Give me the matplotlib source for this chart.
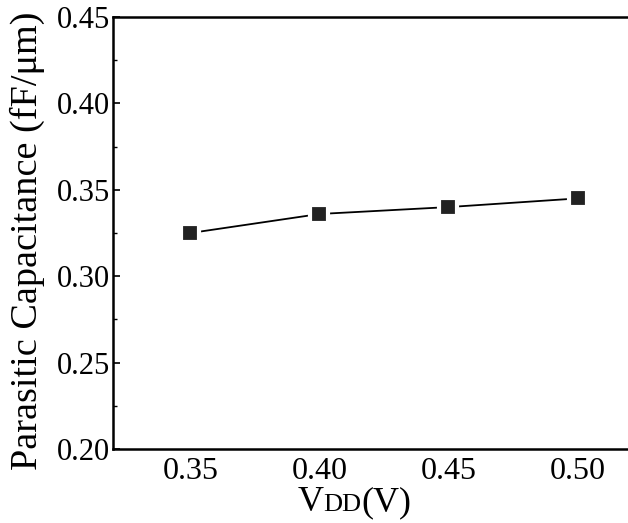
import matplotlib.pyplot as plt
from matplotlib.offsetbox import TextArea, HPacker, AnchoredOffsetbox
from matplotlib.ticker import MultipleLocator

plt.rcParams['font.family'] = ['Liberation Serif', 'DejaVu Serif']
plt.rcParams['mathtext.fontset'] = 'stix'

# data
vdd = [0.35, 0.40, 0.45, 0.50]
cap = [0.325, 0.336, 0.340, 0.345]

fig = plt.figure(figsize=(6.28, 5.23), dpi=100)
ax = fig.add_axes([0.18, 0.1415, 0.83, 0.826])

ax.plot(vdd, cap, color='black', linewidth=1.3, marker='s', markersize=12.5,
        markerfacecolor='#222222', markeredgecolor='white', markeredgewidth=3)

ax.set_xlim(0.32, 0.522)
ax.set_ylim(0.20, 0.45)
ax.set_xticks(vdd)
ax.set_xticklabels(['0.35', '0.40', '0.45', '0.50'])
ax.set_yticks([0.20, 0.25, 0.30, 0.35, 0.40, 0.45])
ax.set_yticklabels(['0.20', '0.25', '0.30', '0.35', '0.40', '0.45'])
ax.yaxis.set_minor_locator(MultipleLocator(0.025))

ax.tick_params(axis='x', length=0, labelsize=23, pad=6)
ax.tick_params(axis='y', which='major', direction='in', length=5, width=1.2, labelsize=22, pad=2)
ax.tick_params(axis='y', which='minor', direction='in', length=3, width=1)

for s in ['left', 'bottom', 'top']:
    ax.spines[s].set_linewidth(1.8)
ax.spines['right'].set_visible(False)

ax.set_ylabel('Parasitic Capacitance (fF/μm)', fontsize=27.5)
ax.yaxis.set_label_coords(-0.13, 0.481)

# x label: V with small-cap DD on the same baseline
parts = [TextArea('V', textprops=dict(fontsize=26)),
         TextArea('DD', textprops=dict(fontsize=19)),
         TextArea('(V)', textprops=dict(fontsize=26))]
box = HPacker(children=parts, align='baseline', pad=0, sep=0)
anchored = AnchoredOffsetbox(loc='upper center', child=box, frameon=False,
                             bbox_to_anchor=(0.463, -0.086), bbox_transform=ax.transAxes,
                             borderpad=0, pad=0)
ax.add_artist(anchored)

fig.savefig('out.png', dpi=100)
